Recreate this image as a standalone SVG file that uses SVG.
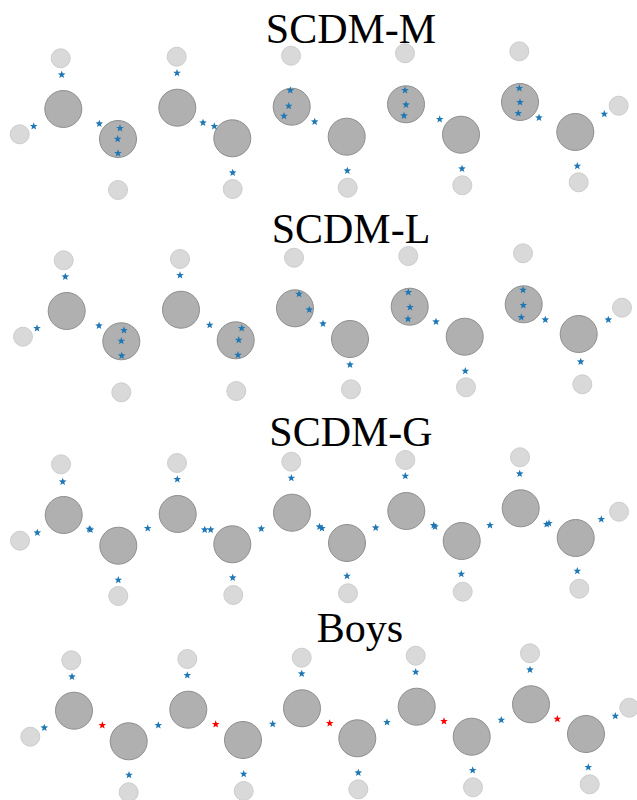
<svg xmlns="http://www.w3.org/2000/svg" xmlns:xlink="http://www.w3.org/1999/xlink" width="637" height="800" viewBox="0 0 637 800">
  <style>
    .heavy { fill: #b0b0b0; stroke: #8e8e8e; stroke-width: 1; }
    .light { fill: #d9d9d9; stroke: #cdcdcd; stroke-width: 1; }
    .title { font-family: "Liberation Serif", "DejaVu Serif", serif; font-size: 42px; fill: #000; text-anchor: middle; }
    .b { fill: #1f77b4; }
    .r { fill: #ff0000; }
  </style>
  <defs>
    <path id="st" d="M0,-4 L1,-1.375 L3.804,-1.236 L1.617,0.525 L2.351,3.236 L0,1.7 L-2.351,3.236 L-1.617,0.525 L-3.804,-1.236 L-1,-1.375 Z"/>
  </defs>
  <rect width="637" height="800" fill="#fff"/>

  <!-- SCDM-M -->
  <g id="panel-scdm-m">
    <text class="title" x="351" y="42.5">SCDM-M</text>
    <g id="m-light">
      <circle class="light" cx="60.7" cy="58.3" r="9.5"/>
      <circle class="light" cx="19.7" cy="134.3" r="9.5"/>
      <circle class="light" cx="118" cy="190" r="9.5"/>
      <circle class="light" cx="176.7" cy="56.7" r="9.5"/>
      <circle class="light" cx="232.7" cy="189" r="9.5"/>
      <circle class="light" cx="291" cy="55.7" r="9.5"/>
      <circle class="light" cx="347.7" cy="187.7" r="9.5"/>
      <circle class="light" cx="405" cy="53.3" r="9.5"/>
      <circle class="light" cx="462.3" cy="185.3" r="9.5"/>
      <circle class="light" cx="519.3" cy="51.3" r="9.5"/>
      <circle class="light" cx="578.7" cy="182.3" r="9.5"/>
      <circle class="light" cx="618.7" cy="105.7" r="9.5"/>
    </g>
    <g id="m-heavy">
      <circle class="heavy" cx="63.3" cy="109" r="18.5"/>
      <circle class="heavy" cx="118" cy="139" r="18.5"/>
      <circle class="heavy" cx="177.3" cy="107.7" r="18.5"/>
      <circle class="heavy" cx="232.3" cy="138.3" r="18.5"/>
      <circle class="heavy" cx="291.7" cy="106.7" r="18.5"/>
      <circle class="heavy" cx="346.7" cy="136.7" r="18.5"/>
      <circle class="heavy" cx="406" cy="104.3" r="18.5"/>
      <circle class="heavy" cx="461" cy="134.7" r="18.5"/>
      <circle class="heavy" cx="520" cy="102" r="18.5"/>
      <circle class="heavy" cx="575.3" cy="132" r="18.5"/>
    </g>
    <g id="m-centres" class="b">
      <use href="#st" xlink:href="#st" x="61.7" y="74.7"/>
      <use href="#st" xlink:href="#st" x="33.7" y="126.3"/>
      <use href="#st" xlink:href="#st" x="99.3" y="123.7"/>
      <use href="#st" xlink:href="#st" x="120" y="128.3"/>
      <use href="#st" xlink:href="#st" x="117.7" y="139"/>
      <use href="#st" xlink:href="#st" x="118" y="153.3"/>
      <use href="#st" xlink:href="#st" x="177" y="73"/>
      <use href="#st" xlink:href="#st" x="203" y="122.7"/>
      <use href="#st" xlink:href="#st" x="214.3" y="126.3"/>
      <use href="#st" xlink:href="#st" x="232.7" y="172.7"/>
      <use href="#st" xlink:href="#st" x="290.3" y="90.3"/>
      <use href="#st" xlink:href="#st" x="288.7" y="106"/>
      <use href="#st" xlink:href="#st" x="284" y="116"/>
      <use href="#st" xlink:href="#st" x="314.7" y="121.7"/>
      <use href="#st" xlink:href="#st" x="347.3" y="170.7"/>
      <use href="#st" xlink:href="#st" x="405" y="90.3"/>
      <use href="#st" xlink:href="#st" x="406" y="104.7"/>
      <use href="#st" xlink:href="#st" x="404" y="115.7"/>
      <use href="#st" xlink:href="#st" x="439.7" y="119.3"/>
      <use href="#st" xlink:href="#st" x="462" y="168.7"/>
      <use href="#st" xlink:href="#st" x="519.3" y="88.3"/>
      <use href="#st" xlink:href="#st" x="520" y="102.3"/>
      <use href="#st" xlink:href="#st" x="518.3" y="113.3"/>
      <use href="#st" xlink:href="#st" x="539" y="117.7"/>
      <use href="#st" xlink:href="#st" x="577.3" y="166"/>
      <use href="#st" xlink:href="#st" x="604.3" y="114"/>
    </g>
  </g>

  <!-- SCDM-L -->
  <g id="panel-scdm-l">
    <text class="title" x="351" y="242.5">SCDM-L</text>
    <g id="l-light">
      <circle class="light" cx="63.7" cy="260.3" r="9.5"/>
      <circle class="light" cx="23" cy="336.7" r="9.5"/>
      <circle class="light" cx="121.3" cy="392.3" r="9.5"/>
      <circle class="light" cx="180" cy="259" r="9.5"/>
      <circle class="light" cx="236.3" cy="391" r="9.5"/>
      <circle class="light" cx="294" cy="257.7" r="9.5"/>
      <circle class="light" cx="351" cy="389.3" r="9.5"/>
      <circle class="light" cx="408.3" cy="256" r="9.5"/>
      <circle class="light" cx="466" cy="387.3" r="9.5"/>
      <circle class="light" cx="523" cy="253.3" r="9.5"/>
      <circle class="light" cx="582.3" cy="384.3" r="9.5"/>
      <circle class="light" cx="622" cy="307.7" r="9.5"/>
    </g>
    <g id="l-heavy">
      <circle class="heavy" cx="66.7" cy="311" r="18.5"/>
      <circle class="heavy" cx="121.3" cy="341.3" r="18.5"/>
      <circle class="heavy" cx="181" cy="309.7" r="18.5"/>
      <circle class="heavy" cx="235.7" cy="340.3" r="18.5"/>
      <circle class="heavy" cx="295" cy="308.3" r="18.5"/>
      <circle class="heavy" cx="350" cy="339" r="18.5"/>
      <circle class="heavy" cx="409.7" cy="306.7" r="18.5"/>
      <circle class="heavy" cx="464.7" cy="336.7" r="18.5"/>
      <circle class="heavy" cx="523.7" cy="304.3" r="18.5"/>
      <circle class="heavy" cx="578.7" cy="334" r="18.5"/>
    </g>
    <g id="l-centres" class="b">
      <use href="#st" xlink:href="#st" x="65.3" y="276.7"/>
      <use href="#st" xlink:href="#st" x="37" y="328.3"/>
      <use href="#st" xlink:href="#st" x="99" y="325.7"/>
      <use href="#st" xlink:href="#st" x="124" y="330.3"/>
      <use href="#st" xlink:href="#st" x="121.3" y="341"/>
      <use href="#st" xlink:href="#st" x="121.7" y="355.7"/>
      <use href="#st" xlink:href="#st" x="180" y="275.3"/>
      <use href="#st" xlink:href="#st" x="209.7" y="325"/>
      <use href="#st" xlink:href="#st" x="241.7" y="328.3"/>
      <use href="#st" xlink:href="#st" x="238.7" y="340"/>
      <use href="#st" xlink:href="#st" x="238" y="355"/>
      <use href="#st" xlink:href="#st" x="299" y="294"/>
      <use href="#st" xlink:href="#st" x="309.3" y="309.7"/>
      <use href="#st" xlink:href="#st" x="323" y="323.7"/>
      <use href="#st" xlink:href="#st" x="350" y="364.7"/>
      <use href="#st" xlink:href="#st" x="408.3" y="292.3"/>
      <use href="#st" xlink:href="#st" x="410" y="307.3"/>
      <use href="#st" xlink:href="#st" x="408" y="319"/>
      <use href="#st" xlink:href="#st" x="436" y="321.7"/>
      <use href="#st" xlink:href="#st" x="465.3" y="371"/>
      <use href="#st" xlink:href="#st" x="523" y="290"/>
      <use href="#st" xlink:href="#st" x="523.3" y="305.3"/>
      <use href="#st" xlink:href="#st" x="521.3" y="317.3"/>
      <use href="#st" xlink:href="#st" x="545.3" y="319.7"/>
      <use href="#st" xlink:href="#st" x="580.7" y="361.7"/>
      <use href="#st" xlink:href="#st" x="608.3" y="319.7"/>
    </g>
  </g>

  <!-- SCDM-G -->
  <g id="panel-scdm-g">
    <text class="title" x="351" y="445.5">SCDM-G</text>
    <g id="g-light">
      <circle class="light" cx="61" cy="464.3" r="9.5"/>
      <circle class="light" cx="20" cy="540.7" r="9.5"/>
      <circle class="light" cx="118.3" cy="596" r="9.5"/>
      <circle class="light" cx="177" cy="463" r="9.5"/>
      <circle class="light" cx="233.3" cy="595" r="9.5"/>
      <circle class="light" cx="291.3" cy="461.7" r="9.5"/>
      <circle class="light" cx="348" cy="593.3" r="9.5"/>
      <circle class="light" cx="405.3" cy="460" r="9.5"/>
      <circle class="light" cx="462.7" cy="591.7" r="9.5"/>
      <circle class="light" cx="520" cy="457.3" r="9.5"/>
      <circle class="light" cx="579.3" cy="588.7" r="9.5"/>
      <circle class="light" cx="619" cy="511.7" r="9.5"/>
    </g>
    <g id="g-heavy">
      <circle class="heavy" cx="63.7" cy="515" r="18.5"/>
      <circle class="heavy" cx="118.3" cy="545.7" r="18.5"/>
      <circle class="heavy" cx="177.7" cy="514" r="18.5"/>
      <circle class="heavy" cx="232.3" cy="544.3" r="18.5"/>
      <circle class="heavy" cx="292" cy="512.7" r="18.5"/>
      <circle class="heavy" cx="347" cy="543" r="18.5"/>
      <circle class="heavy" cx="406.3" cy="511" r="18.5"/>
      <circle class="heavy" cx="461.7" cy="541" r="18.5"/>
      <circle class="heavy" cx="520.7" cy="508.3" r="18.5"/>
      <circle class="heavy" cx="575.7" cy="538" r="18.5"/>
    </g>
    <g id="g-centres" class="b">
      <use href="#st" xlink:href="#st" x="62.7" y="481.7"/>
      <use href="#st" xlink:href="#st" x="37.3" y="532.7"/>
      <use href="#st" xlink:href="#st" x="89.3" y="529"/>
      <use href="#st" xlink:href="#st" x="90.5" y="529.8"/>
      <use href="#st" xlink:href="#st" x="118.3" y="580"/>
      <use href="#st" xlink:href="#st" x="147.7" y="528.3"/>
      <use href="#st" xlink:href="#st" x="177.3" y="479.3"/>
      <use href="#st" xlink:href="#st" x="204.7" y="529.7"/>
      <use href="#st" xlink:href="#st" x="210.7" y="529.7"/>
      <use href="#st" xlink:href="#st" x="232.7" y="577.7"/>
      <use href="#st" xlink:href="#st" x="261.3" y="528.7"/>
      <use href="#st" xlink:href="#st" x="291.3" y="478"/>
      <use href="#st" xlink:href="#st" x="319.5" y="526.7"/>
      <use href="#st" xlink:href="#st" x="322" y="528.3"/>
      <use href="#st" xlink:href="#st" x="347" y="576"/>
      <use href="#st" xlink:href="#st" x="375.7" y="527.7"/>
      <use href="#st" xlink:href="#st" x="405.3" y="476"/>
      <use href="#st" xlink:href="#st" x="433.7" y="525.3"/>
      <use href="#st" xlink:href="#st" x="435" y="526.7"/>
      <use href="#st" xlink:href="#st" x="461.3" y="574"/>
      <use href="#st" xlink:href="#st" x="490" y="525.3"/>
      <use href="#st" xlink:href="#st" x="519.7" y="473.7"/>
      <use href="#st" xlink:href="#st" x="546.7" y="524.3"/>
      <use href="#st" xlink:href="#st" x="549" y="523.3"/>
      <use href="#st" xlink:href="#st" x="577.3" y="571"/>
      <use href="#st" xlink:href="#st" x="601.3" y="519.3"/>
    </g>
  </g>

  <!-- Boys -->
  <g id="panel-boys">
    <text class="title" x="360" y="641.5">Boys</text>
    <g id="boys-light">
      <circle class="light" cx="71.3" cy="660.3" r="9.5"/>
      <circle class="light" cx="30.3" cy="736.7" r="9.5"/>
      <circle class="light" cx="128.7" cy="792.3" r="9.5"/>
      <circle class="light" cx="187.3" cy="659" r="9.5"/>
      <circle class="light" cx="243.7" cy="791" r="9.5"/>
      <circle class="light" cx="301.7" cy="657.7" r="9.5"/>
      <circle class="light" cx="358.3" cy="789.3" r="9.5"/>
      <circle class="light" cx="415.7" cy="655.7" r="9.5"/>
      <circle class="light" cx="473" cy="787.3" r="9.5"/>
      <circle class="light" cx="530" cy="653.3" r="9.5"/>
      <circle class="light" cx="589.7" cy="784.3" r="9.5"/>
      <circle class="light" cx="629.3" cy="707.7" r="9.5"/>
    </g>
    <g id="boys-heavy">
      <circle class="heavy" cx="74" cy="710.7" r="18.5"/>
      <circle class="heavy" cx="128.7" cy="741.3" r="18.5"/>
      <circle class="heavy" cx="188.3" cy="709.7" r="18.5"/>
      <circle class="heavy" cx="243" cy="740" r="18.5"/>
      <circle class="heavy" cx="302" cy="708.3" r="18.5"/>
      <circle class="heavy" cx="357.3" cy="738.3" r="18.5"/>
      <circle class="heavy" cx="416.7" cy="706.7" r="18.5"/>
      <circle class="heavy" cx="471.7" cy="736.7" r="18.5"/>
      <circle class="heavy" cx="531" cy="704.3" r="18.5"/>
      <circle class="heavy" cx="586" cy="734" r="18.5"/>
    </g>
    <g id="boys-centres">
      <use class="b" href="#st" xlink:href="#st" x="72" y="676.7"/>
      <use class="b" href="#st" xlink:href="#st" x="44.3" y="727.7"/>
      <use class="r" href="#st" xlink:href="#st" x="102.3" y="725.3"/>
      <use class="b" href="#st" xlink:href="#st" x="129" y="775"/>
      <use class="b" href="#st" xlink:href="#st" x="158.3" y="725.3"/>
      <use class="b" href="#st" xlink:href="#st" x="187.3" y="675.3"/>
      <use class="r" href="#st" xlink:href="#st" x="215.7" y="724.3"/>
      <use class="b" href="#st" xlink:href="#st" x="243.7" y="774"/>
      <use class="b" href="#st" xlink:href="#st" x="272.7" y="724"/>
      <use class="b" href="#st" xlink:href="#st" x="301.7" y="673.7"/>
      <use class="r" href="#st" xlink:href="#st" x="329.7" y="723.3"/>
      <use class="b" href="#st" xlink:href="#st" x="358.3" y="772.7"/>
      <use class="b" href="#st" xlink:href="#st" x="387" y="722.3"/>
      <use class="b" href="#st" xlink:href="#st" x="415.7" y="672"/>
      <use class="r" href="#st" xlink:href="#st" x="444" y="721.3"/>
      <use class="b" href="#st" xlink:href="#st" x="472.7" y="770.3"/>
      <use class="b" href="#st" xlink:href="#st" x="501.3" y="720"/>
      <use class="b" href="#st" xlink:href="#st" x="530" y="669.7"/>
      <use class="r" href="#st" xlink:href="#st" x="557.3" y="719"/>
      <use class="b" href="#st" xlink:href="#st" x="588.3" y="767.3"/>
      <use class="b" href="#st" xlink:href="#st" x="615.3" y="716"/>
    </g>
  </g>
</svg>
